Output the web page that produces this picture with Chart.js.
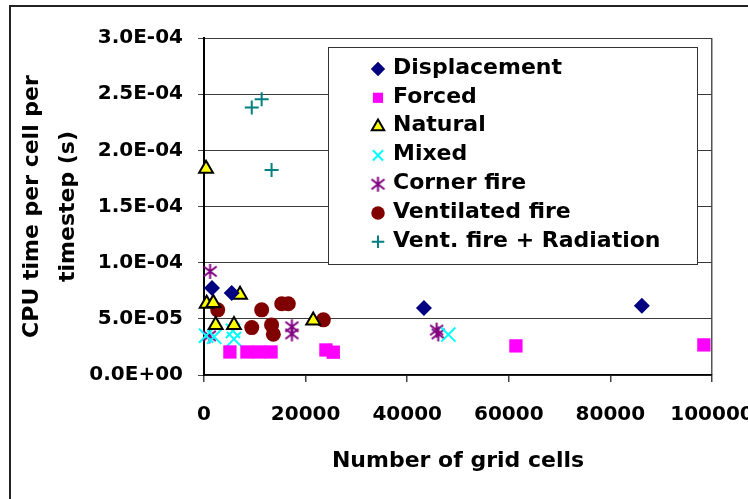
<!DOCTYPE html>
<html>
<head>
<meta charset="utf-8">
<script src="https://cdn.jsdelivr.net/npm/chart.js@4.4.1/dist/chart.umd.min.js"></script>
<style>
  html, body { margin: 0; padding: 0; background: #fff; overflow: hidden; }
  #wrap { width: 748px; height: 499px; }
</style>
</head>
<body>
<div id="wrap"><canvas id="chart" width="748" height="499"></canvas></div>
<script>
// Series values (x = number of grid cells, y = CPU s per cell per timestep)
const displacementX = [1575, 5450, 43300, 86200];
const displacementY = [7.74e-5, 7.3e-5, 5.96e-5, 6.16e-5];

const forcedX = [5100, 8450, 10800, 13200, 24000, 25450, 61400, 98400];
const forcedY = [2.05e-5, 2.05e-5, 2.05e-5, 2.05e-5, 2.23e-5, 2.03e-5, 2.59e-5, 2.68e-5];

const naturalX = [400, 530, 1830, 7090, 2300, 5900, 21500];
const naturalY = [1.837e-4, 6.34e-5, 6.4e-5, 7.14e-5, 4.46e-5, 4.46e-5, 4.85e-5];

const mixedX = [400, 2000, 5700, 5900, 48100];
const mixedY = [3.5e-5, 3.4e-5, 3.93e-5, 3.2e-5, 3.6e-5];

const cornerX = [1200, 1050, 17300, 17300, 45800, 46100];
const cornerY = [9.22e-5, 3.48e-5, 4.29e-5, 3.66e-5, 4.0e-5, 3.66e-5];

const ventX = [2700, 11350, 15300, 16600, 9400, 13300, 13650, 23500];
const ventY = [5.8e-5, 5.8e-5, 6.34e-5, 6.34e-5, 4.22e-5, 4.46e-5, 3.63e-5, 4.91e-5];

const ventRadX = [9400, 11350, 13300];
const ventRadY = [2.381e-4, 2.455e-4, 1.824e-4];

const seriesNames = ['Displacement', 'Forced', 'Natural', 'Mixed', 'Corner fire',
  'Ventilated fire', 'Vent. fire + Radiation'];

const xMax = 100000;
const xStep = 20000;
const yMax = 3e-4;
const yStep = 5e-5;

// pair x and y arrays into {x, y} points
function toPoints(xs, ys) {
  return xs.map((x, i) => ({ x: x, y: ys[i] }));
}

// "3.0E-04" style labels
function sciLabel(v) {
  const parts = Number(v).toExponential(1).toUpperCase().split('E');
  const exp = parseInt(parts[1], 10);
  const sign = exp < 0 ? '-' : '+';
  return parts[0] + 'E' + sign + String(Math.abs(exp)).padStart(2, '0');
}

// six-armed asterisk marker for "Corner fire"
function makeAsterisk(color) {
  const c = document.createElement('canvas');
  c.width = 17; c.height = 17;
  const g = c.getContext('2d');
  g.strokeStyle = color;
  g.lineWidth = 2;
  g.beginPath();
  g.moveTo(8.5, 1); g.lineTo(8.5, 16);
  g.moveTo(2, 3.5); g.lineTo(15, 13.5);
  g.moveTo(2, 13.5); g.lineTo(15, 3.5);
  g.stroke();
  return c;
}

const asterisk = makeAsterisk('#800080');

const datasets = [
  { data: toPoints(displacementX, displacementY), pointStyle: 'rectRot', pointRadius: 8,
    backgroundColor: '#000080', borderColor: '#000080', borderWidth: 0 },
  { data: toPoints(forcedX, forcedY), pointStyle: 'rect', pointRadius: 9.4,
    backgroundColor: '#ff00ff', borderColor: '#ff00ff', borderWidth: 0 },
  { data: toPoints(naturalX, naturalY), pointStyle: 'triangle', pointRadius: 8,
    backgroundColor: '#ffff00', borderColor: '#000000', borderWidth: 2 },
  { data: toPoints(mixedX, mixedY), pointStyle: 'crossRot', pointRadius: 10,
    backgroundColor: '#00ffff', borderColor: '#00ffff', borderWidth: 2 },
  { data: toPoints(cornerX, cornerY), pointStyle: asterisk, pointRadius: 8,
    backgroundColor: '#800080', borderColor: '#800080', borderWidth: 2 },
  { data: toPoints(ventX, ventY), pointStyle: 'circle', pointRadius: 7.5,
    backgroundColor: '#800000', borderColor: '#800000', borderWidth: 0 },
  { data: toPoints(ventRadX, ventRadY), pointStyle: 'cross', pointRadius: 7,
    backgroundColor: '#008080', borderColor: '#008080', borderWidth: 2 }
].map((d, i) => Object.assign(d, {
  label: seriesNames[i],
  pointBorderWidth: d.borderWidth,
  pointHoverRadius: d.pointRadius,
  clip: false
}));

// legend box drawn inside the plot, like the original
const legendBox = {
  id: 'legendBox',
  afterDatasetsDraw(chart) {
    const ctx = chart.ctx;
    const left = 328, top = 47, width = 369, height = 217;
    ctx.save();
    ctx.fillStyle = '#ffffff';
    ctx.fillRect(left, top, width, height);
    ctx.strokeStyle = '#333333';
    ctx.lineWidth = 1;
    ctx.strokeRect(left + 0.5, top + 0.5, width, height);
    ctx.font = 'bold 22px "DejaVu Sans", sans-serif';
    ctx.textBaseline = 'middle';
    ctx.textAlign = 'left';
    chart.data.datasets.forEach((ds, i) => {
      const y = top + 21 + i * 28.8;
      ctx.fillStyle = ds.backgroundColor;
      ctx.strokeStyle = ds.borderColor;
      ctx.lineWidth = ds.borderWidth;
      Chart.helpers.drawPoint(ctx, {
        pointStyle: ds.pointStyle,
        rotation: 0,
        radius: Math.min(ds.pointRadius, 8) * 0.9,
        borderWidth: ds.borderWidth
      }, 378, y + 1);
      ctx.fillStyle = '#000000';
      ctx.fillText(ds.label, 393, y);
    });
    ctx.restore();
  }
};

// outer frame around the whole chart
const frame = {
  id: 'frame',
  beforeDraw(chart) {
    const ctx = chart.ctx;
    ctx.save();
    ctx.fillStyle = '#ffffff';
    ctx.fillRect(0, 0, chart.width, chart.height);
    ctx.restore();
  },
  afterDraw(chart) {
    const ctx = chart.ctx;
    ctx.save();
    ctx.strokeStyle = '#222222';
    ctx.lineWidth = 2;
    ctx.strokeRect(10, 6, 800, 600);
    ctx.restore();
  }
};

Chart.defaults.font.family = '"DejaVu Sans", sans-serif';
Chart.defaults.color = '#000000';

new Chart(document.getElementById('chart'), {
  type: 'scatter',
  data: { datasets: datasets },
  options: {
    responsive: false,
    animation: false,
    devicePixelRatio: 1,
    layout: { padding: { top: 38, right: 36, left: 0, bottom: 0 } },
    plugins: {
      legend: { display: false },
      tooltip: { enabled: false }
    },
    scales: {
      x: {
        type: 'linear',
        min: 0,
        max: xMax,
        afterFit(scale) {
          scale.height = 124;
          scale.paddingLeft = 0;
          scale.paddingRight = 0;
        },
        ticks: {
          stepSize: xStep,
          padding: 21,
          maxRotation: 0,
          autoSkip: false,
          font: { size: 20, weight: 'bold' },
          callback: (v) => String(v)
        },
        grid: {
          color: (c) => (c.tick && c.tick.value === xMax ? '#555555' : 'rgba(0,0,0,0)'),
          tickColor: '#444444',
          tickLength: 7,
          lineWidth: 1.5
        },
        border: { color: '#000000', width: 1.5 },
        title: {
          display: true,
          text: 'Number of grid cells',
          font: { size: 22, weight: 'bold', lineHeight: 1.2 },
          padding: { top: 0, bottom: 25 }
        }
      },
      y: {
        type: 'linear',
        min: 0,
        max: yMax,
        afterFit(scale) {
          scale.width = 204;
          scale.paddingTop = 0;
          scale.paddingBottom = 0;
        },
        ticks: {
          stepSize: yStep,
          padding: 15,
          autoSkip: false,
          font: { size: 20, weight: 'bold' },
          callback: (v) => sciLabel(v)
        },
        grid: {
          color: '#3c3c3c',
          lineWidth: 1,
          tickColor: '#444444',
          tickLength: 6
        },
        border: { color: '#000000', width: 2 },
        title: {
          display: true,
          text: ['CPU time per cell per', 'timestep (s)'],
          font: { size: 22, weight: 'bold', lineHeight: 1.6 },
          padding: { top: 15, bottom: 0 }
        }
      }
    }
  },
  plugins: [frame, legendBox]
});
</script>
</body>
</html>
